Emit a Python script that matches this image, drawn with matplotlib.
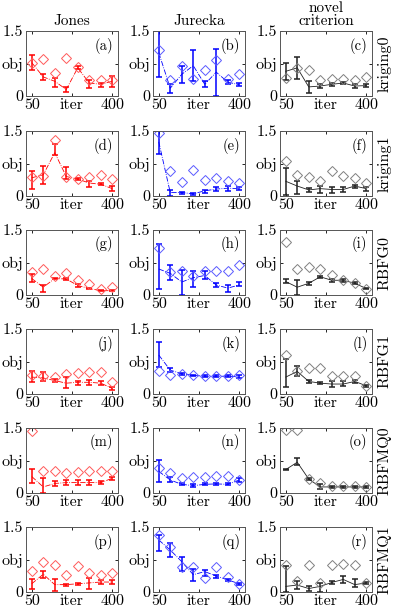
import matplotlib
matplotlib.use("Agg")
import matplotlib.pyplot as plt
import numpy as np

plt.rcParams['font.family'] = 'cmr10'
plt.rcParams['axes.unicode_minus'] = False
plt.rcParams['axes.formatter.use_mathtext'] = True

iters = [50, 100, 150, 200, 250, 300, 350, 400]
methods = ["Jones", "Jurecka", "novel\ncriterion"]
models = ["kriging0", "kriging1", "RBFG0", "RBFG1", "RBFMQ0", "RBFMQ1"]
letters = "abcdefghijklmnopqr"

# diamonds, errorbar means, lower ends, upper ends  (one row per panel, a..r)
diam = [
    [0.76, 0.86, 0.53, 0.87, 0.66, 0.37, 0.37, 0.38],  # a
    [1.07, 0.36, 0.69, 0.40, 0.61, 0.84, 0.40, 0.50],  # b
    [0.42, 0.65, 0.59, 0.38, 0.40, 0.40, 0.38, 0.43],  # c
    [0.43, 0.47, 1.29, 0.45, 0.39, 0.45, 0.49, 0.40],  # d
    [1.46, 0.57, 0.32, 0.59, 0.36, 0.42, 0.34, 0.29],  # e
    [0.81, 0.49, 0.45, 0.34, 0.58, 0.47, 0.42, 0.30],  # f
    [0.53, 0.59, 0.44, 0.50, 0.34, 0.25, 0.13, 0.18],  # g
    [1.08, 0.53, 0.55, 0.44, 0.55, 0.55, 0.55, 0.69],  # h
    [1.23, 0.61, 0.65, 0.61, 0.46, 0.34, 0.27, 0.13],  # i
    [0.43, 0.41, 0.39, 0.47, 0.48, 0.51, 0.51, 0.27],  # j
    [0.53, 0.43, 0.47, 0.43, 0.41, 0.41, 0.41, 0.43],  # k
    [0.91, 0.52, 0.59, 0.59, 0.42, 0.42, 0.42, 0.19],  # l
    [1.44, 0.50, 0.50, 0.47, 0.48, 0.51, 0.51, 0.50],  # m
    [0.57, 0.47, 0.34, 0.36, 0.37, 0.39, 0.39, 0.31],  # n
    [1.46, 1.46, 0.32, 0.22, 0.17, 0.16, 0.16, 0.14],  # o
    [0.49, 0.70, 0.63, 0.39, 0.61, 0.45, 0.39, 0.45],  # p
    [1.31, 1.04, 0.57, 0.57, 0.33, 0.57, 0.35, 0.19],  # q
    [0.63, 0.25, 0.63, 0.21, 0.63, 0.65, 0.63, 0.21],  # r
]
mean = [
    [0.77, 0.44, 0.34, 0.15, 0.65, 0.30, 0.27, 0.34],
    [1.00, 0.18, 0.50, 0.70, 0.27, 0.55, 0.32, 0.26],
    [0.57, 0.65, 0.21, 0.23, 0.27, 0.30, 0.23, 0.24],
    [0.42, 0.49, 1.00, 0.45, 0.39, 0.30, 0.27, 0.17],
    [1.25, 0.08, 0.08, 0.05, 0.12, 0.16, 0.18, 0.17],
    [0.34, 0.23, 0.14, 0.17, 0.15, 0.15, 0.23, 0.17],
    [0.38, 0.18, 0.38, 0.37, 0.22, 0.15, 0.10, 0.10],
    [0.60, 0.50, 0.30, 0.40, 0.45, 0.23, 0.16, 0.23],
    [0.31, 0.18, 0.27, 0.42, 0.34, 0.34, 0.27, 0.15],
    [0.39, 0.37, 0.31, 0.25, 0.27, 0.27, 0.25, 0.13],
    [0.90, 0.55, 0.47, 0.43, 0.41, 0.41, 0.41, 0.40],
    [0.39, 0.52, 0.29, 0.25, 0.23, 0.23, 0.29, 0.19],
    [0.38, 0.14, 0.22, 0.24, 0.24, 0.24, 0.24, 0.34],
    [0.50, 0.30, 0.20, 0.17, 0.20, 0.21, 0.20, 0.30],
    [0.54, 0.71, 0.32, 0.14, 0.14, 0.14, 0.14, 0.14],
    [0.19, 0.41, 0.17, 0.17, 0.19, 0.21, 0.23, 0.23],
    [1.20, 0.97, 0.70, 0.40, 0.47, 0.37, 0.28, 0.19],
    [0.13, 0.16, 0.08, 0.13, 0.22, 0.29, 0.17, 0.21],
]
low = [
    [0.59, 0.38, 0.21, 0.09, 0.63, 0.18, 0.21, 0.21],
    [0.44, 0.08, 0.31, 0.34, 0.21, 0.00, 0.27, 0.22],
    [0.38, 0.40, 0.08, 0.19, 0.23, 0.27, 0.19, 0.21],
    [0.17, 0.27, 0.95, 0.39, 0.37, 0.21, 0.25, 0.11],
    [0.98, 0.00, 0.05, 0.02, 0.08, 0.11, 0.11, 0.13],
    [0.02, 0.04, 0.10, 0.08, 0.08, 0.09, 0.19, 0.11],
    [0.31, 0.08, 0.36, 0.34, 0.19, 0.13, 0.09, 0.09],
    [0.13, 0.34, 0.00, 0.18, 0.36, 0.18, 0.08, 0.20],
    [0.27, 0.00, 0.24, 0.39, 0.29, 0.31, 0.25, 0.13],
    [0.27, 0.31, 0.27, 0.14, 0.20, 0.21, 0.21, 0.09],
    [0.63, 0.51, 0.45, 0.41, 0.39, 0.39, 0.39, 0.37],
    [0.16, 0.42, 0.26, 0.23, 0.16, 0.19, 0.26, 0.17],
    [0.24, 0.00, 0.16, 0.18, 0.18, 0.18, 0.20, 0.30],
    [0.26, 0.26, 0.18, 0.14, 0.18, 0.19, 0.18, 0.25],
    [0.52, 0.65, 0.30, 0.10, 0.12, 0.12, 0.12, 0.12],
    [0.06, 0.33, 0.02, 0.15, 0.17, 0.08, 0.19, 0.18],
    [0.94, 0.80, 0.49, 0.25, 0.37, 0.33, 0.25, 0.17],
    [0.00, 0.06, 0.03, 0.00, 0.18, 0.21, 0.11, 0.19],
]
high = [
    [0.95, 0.50, 0.42, 0.21, 0.70, 0.38, 0.30, 0.46],
    [1.60, 0.27, 0.69, 1.07, 0.34, 1.08, 0.38, 0.30],
    [0.76, 0.91, 0.34, 0.27, 0.31, 0.32, 0.27, 0.28],
    [0.58, 0.70, 1.20, 0.66, 0.41, 0.34, 0.29, 0.23],
    [1.50, 0.15, 0.10, 0.07, 0.15, 0.20, 0.24, 0.21],
    [0.64, 0.34, 0.18, 0.23, 0.21, 0.21, 0.25, 0.21],
    [0.48, 0.23, 0.40, 0.40, 0.26, 0.17, 0.11, 0.11],
    [1.18, 0.69, 0.57, 0.56, 0.56, 0.28, 0.23, 0.31],
    [0.38, 0.34, 0.30, 0.45, 0.38, 0.37, 0.29, 0.17],
    [0.53, 0.51, 0.35, 0.39, 0.31, 0.33, 0.29, 0.16],
    [1.20, 0.61, 0.49, 0.45, 0.43, 0.43, 0.43, 0.44],
    [0.80, 0.64, 0.32, 0.27, 0.29, 0.29, 0.32, 0.21],
    [0.56, 0.34, 0.28, 0.30, 0.30, 0.30, 0.28, 0.38],
    [0.76, 0.36, 0.22, 0.20, 0.22, 0.23, 0.22, 0.34],
    [0.56, 0.80, 0.34, 0.20, 0.16, 0.16, 0.16, 0.16],
    [0.31, 0.49, 0.29, 0.19, 0.21, 0.33, 0.27, 0.27],
    [1.31, 1.13, 0.80, 0.53, 0.51, 0.40, 0.31, 0.21],
    [0.60, 0.25, 0.13, 0.21, 0.26, 0.37, 0.29, 0.23],
]

line_col = ['#ff0000', '#0000ff', '#202020']
diam_col = ['#ff5a5a', '#5a5aff', '#808080']
line_sty = ['-.', '-.', '-']

W, H = 395, 609
fig = plt.figure(figsize=(W / 100, H / 100), dpi=100)

col_left = [26, 153, 280]
row_top = [31, 131, 230, 329, 428, 527]
aw, ah = 92, 65

for r in range(6):
    for c in range(3):
        k = r * 3 + c
        ax = fig.add_axes([col_left[c] / W, 1 - (row_top[r] + ah) / H, aw / W, ah / H])
        m = np.array(mean[k])
        yerr = [m - np.array(low[k]), np.array(high[k]) - m]
        ax.plot(iters, m, line_sty[c], color=line_col[c], lw=0.6)
        ax.errorbar(iters, m, yerr=yerr, fmt='none', ecolor=line_col[c],
                    elinewidth=1.1, capsize=2.5, capthick=1.1)
        ax.plot(iters, diam[k], 'D', ms=5, mfc='none', mec=diam_col[c], mew=0.7)
        ax.set_xlim(25, 425)
        ax.set_ylim(0, 1.5)
        ax.set_xticks([50, 225, 400])
        ax.set_xticklabels(['50', 'iter', '400'])
        ax.set_yticks([0, 0.75, 1.5])
        ax.set_yticklabels(['0', 'obj', '1.5'])
        ax.tick_params(direction='in', length=2.5, width=0.6, top=True, right=True,
                       labelsize=11.5, pad=2)
        for s in ax.spines.values():
            s.set_linewidth(0.7)
            s.set_color('#555555')
        ax.text(0.95, 0.9, '(%s)' % letters[k], transform=ax.transAxes,
                ha='right', va='top', fontsize=10.5)
        if r == 0:
            ax.set_title(methods[c], fontsize=11, pad=4, linespacing=1.0)
        if c == 2:
            fig.text(385 / W, 1 - (row_top[r] + ah / 2) / H, models[r],
                     rotation=90, ha='center', va='center', fontsize=11.5)

fig.savefig('out.png', dpi=100)
